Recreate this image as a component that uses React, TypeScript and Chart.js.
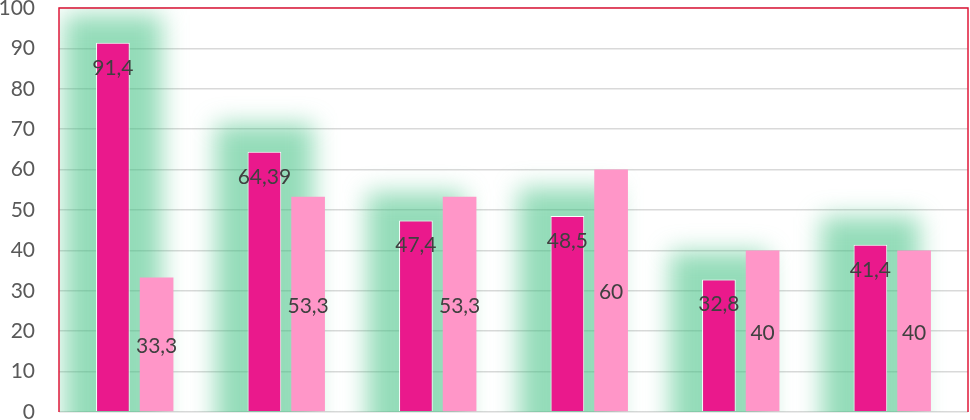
import React, { useEffect, useRef } from "react";
import { Chart, registerables } from "chart.js";

Chart.register(...registerables);

const categories = ["1", "2", "3", "4", "5", "6"];
const seriesA = [91.4, 64.39, 47.4, 48.5, 32.8, 41.4];
const seriesB = [33.3, 53.3, 53.3, 60, 40, 40];
const yTicks = [0, 10, 20, 30, 40, 50, 60, 70, 80, 90, 100];

const DARK = "#EA198C";
const LIGHT = "#FF96C8";
const FONT = "Lato, 'Open Sans', sans-serif";

const fmt = (v: number) => String(v).replace(".", ",");

const glowPlugin = {
  id: "glow",
  beforeDatasetsDraw(chart: any) {
    const { ctx, chartArea } = chart;
    const meta = chart.getDatasetMeta(0);
    ctx.save();
    ctx.beginPath();
    ctx.rect(chartArea.left, chartArea.top, chartArea.right - chartArea.left, chartArea.bottom - chartArea.top);
    ctx.clip();
    ctx.filter = "blur(12px)";
    ctx.fillStyle = "rgba(60,192,128,0.55)";
    const ex = 32;
    meta.data.forEach((el: any) => {
      const p = el.getProps(["x", "y", "base", "width"], true);
      ctx.fillRect(p.x - p.width / 2 - ex, p.y - ex + 4, p.width + 2 * ex, p.base - p.y + 3 * ex);
    });
    ctx.restore();
  },
};

const labelPlugin = {
  id: "labels",
  afterDatasetsDraw(chart: any) {
    const { ctx } = chart;
    ctx.save();
    ctx.font = `21px ${FONT}`;
    ctx.fillStyle = "#404040";
    ctx.textAlign = "center";
    ctx.textBaseline = "middle";
    chart.getDatasetMeta(0).data.forEach((el: any, i: number) => {
      const p = el.getProps(["x", "y", "base"], true);
      ctx.fillText(fmt(seriesA[i]), p.x, p.y + 25);
    });
    chart.getDatasetMeta(1).data.forEach((el: any, i: number) => {
      const p = el.getProps(["x", "y", "base"], true);
      ctx.fillText(fmt(seriesB[i]), p.x, (p.y + p.base) / 2 + 2);
    });
    ctx.restore();
  },
};

const borderPlugin = {
  id: "plotBorder",
  afterDraw(chart: any) {
    const { ctx, chartArea } = chart;
    ctx.save();
    ctx.strokeStyle = "#E0183A";
    ctx.lineWidth = 1.5;
    ctx.beginPath();
    ctx.moveTo(chartArea.left, chartArea.bottom);
    ctx.lineTo(chartArea.left, chartArea.top);
    ctx.lineTo(chartArea.right, chartArea.top);
    ctx.lineTo(chartArea.right, chartArea.bottom);
    ctx.stroke();
    ctx.restore();
  },
};

export default function App() {
  const ref = useRef<HTMLCanvasElement>(null);
  useEffect(() => {
    document.body.style.margin = "0";
    const canvas = ref.current!;
    const chart = new Chart(canvas, {
      type: "bar",
      data: {
        labels: categories,
        datasets: [
          {
            data: seriesA,
            backgroundColor: DARK,
            borderColor: "#FFFFFF",
            borderWidth: 1,
            categoryPercentage: 0.577,
            barPercentage: 0.77,
          },
          {
            data: seriesB,
            backgroundColor: LIGHT,
            borderWidth: 0,
            categoryPercentage: 0.577,
            barPercentage: 0.77,
          },
        ],
      },
      options: {
        responsive: false,
        animation: false,
        devicePixelRatio: 1,
        layout: { padding: { left: 0, right: 2, top: 0, bottom: 0 } },
        plugins: { legend: { display: false }, tooltip: { enabled: false } },
        scales: {
          x: { display: false },
          y: {
            min: 0,
            max: 100,
            afterBuildTicks(scale: any) {
              scale.ticks = yTicks.map((v) => ({ value: v }));
            },
            afterFit(scale: any) {
              scale.width = 59;
              scale.paddingTop = 8;
              scale.paddingBottom = 8;
            },
            ticks: {
              color: "#595959",
              padding: 24,
              font: { family: FONT, size: 21 },
            },
            grid: { color: "#D9D9D9", lineWidth: 1.5, drawTicks: false },
            border: { display: false },
          },
        },
      },
      plugins: [glowPlugin, labelPlugin, borderPlugin],
    } as any);
    return () => chart.destroy();
  }, []);
  return <canvas ref={ref} width={970} height={420} style={{ display: "block", width: 970, height: 420 }} />;
}
